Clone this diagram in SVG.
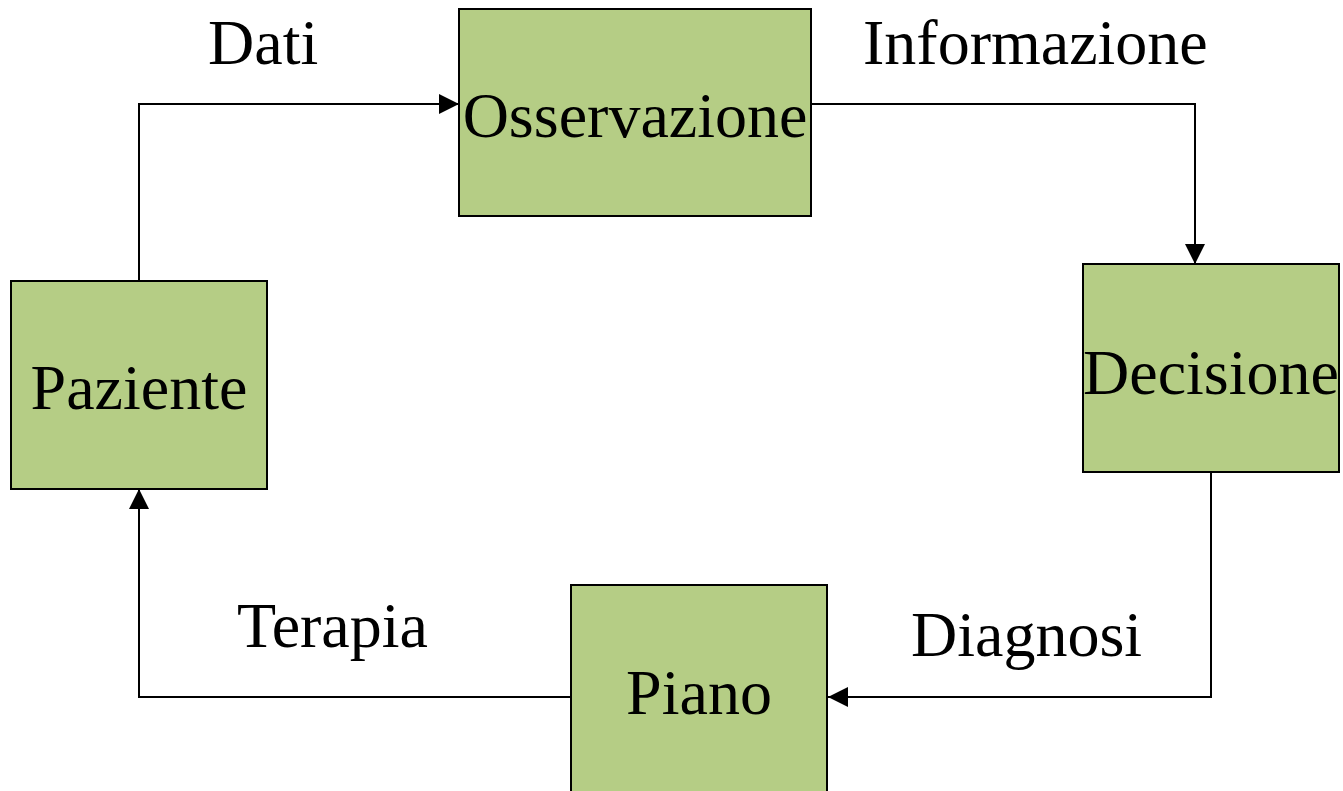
<svg xmlns="http://www.w3.org/2000/svg" width="1343" height="791" viewBox="0 0 1343 791">
<style>
.box{fill:#b5cd85;stroke:#000;stroke-width:2}
.t{font-family:"Liberation Serif","Times New Roman",serif;font-size:64px;fill:#000}
.c{text-anchor:middle}
.edge{fill:none;stroke:#000;stroke-width:2}
</style>
<defs>
<marker id="arr" markerWidth="20" markerHeight="20" refX="20" refY="10" orient="auto" markerUnits="userSpaceOnUse">
<path d="M0,0 L20,10 L0,20 Z" fill="#000"/>
</marker>
</defs>
<rect width="1343" height="791" fill="#fff"/>
<g id="connectors">
<path class="edge" d="M139,281 V104 H459" marker-end="url(#arr)"/>
<path class="edge" d="M812,104 H1195 V264" marker-end="url(#arr)"/>
<path class="edge" d="M1211,472 V697 H828" marker-end="url(#arr)"/>
<path class="edge" d="M571,697 H139 V489" marker-end="url(#arr)"/>
<text class="t" x="208" y="64">Dati</text>
<text class="t" x="863" y="64">Informazione</text>
<text class="t" x="237" y="647">Terapia</text>
<text class="t" x="911" y="656">Diagnosi</text>
</g>
<g id="osservazione">
<rect class="box" x="459" y="9" width="352" height="207"/>
<text class="t c" x="635" y="137">Osservazione</text>
</g>
<g id="decisione">
<rect class="box" x="1083" y="264" width="256" height="208"/>
<text class="t c" x="1211" y="394">Decisione</text>
</g>
<g id="piano">
<rect class="box" x="571" y="585" width="256" height="220"/>
<text class="t c" x="699" y="714">Piano</text>
</g>
<g id="paziente">
<rect class="box" x="11" y="281" width="256" height="208"/>
<text class="t c" x="139" y="409">Paziente</text>
</g>
</svg>
